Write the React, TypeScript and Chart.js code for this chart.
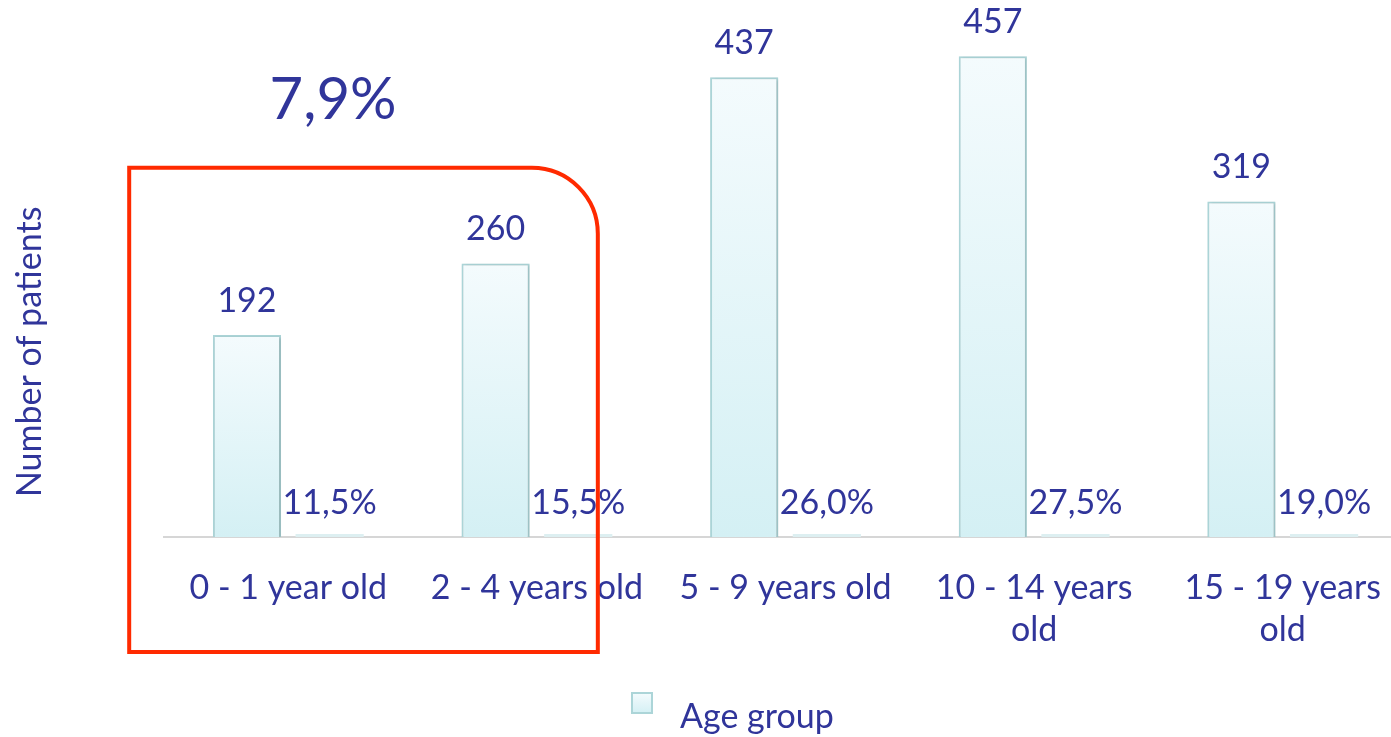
import React, { useEffect, useRef } from 'react';
import { Chart, registerables } from 'chart.js';

Chart.register(...registerables);

const categories: string[][] = [
  ['0 - 1 year old'],
  ['2 - 4 years old'],
  ['5 - 9 years old'],
  ['10 - 14 years', 'old'],
  ['15 - 19 years', 'old'],
];
const patientCounts = [192, 260, 437, 457, 319];
const percentShares = [11.5, 15.5, 26.0, 27.5, 19.0];
const highlightShare = '7,9%';
const seriesLabel = 'Age group';
const yAxisTitle = 'Number of patients';

const FONT = 'Lato, "Open Sans", sans-serif';
const TEXT = '#30359a';
const CANVAS_W = 1411;
const CANVAS_H = 737;
const FS = 34;

const fmtPct = (p: number) => p.toFixed(1).replace('.', ',') + '%';

const shadowPlugin = {
  id: 'shadowPlugin',
  beforeDatasetDraw(chart: any, args: any) {
    if (args.index !== 0) return;
    const ctx = chart.ctx as CanvasRenderingContext2D;
    ctx.save();
    ctx.shadowColor = 'rgba(0,0,0,0.18)';
    ctx.shadowBlur = 3;
    ctx.shadowOffsetX = 1.5;
    ctx.shadowOffsetY = 1;
  },
  afterDatasetDraw(chart: any, args: any) {
    if (args.index !== 0) return;
    chart.ctx.restore();
  },
};

const labelPlugin = {
  id: 'labelPlugin',
  afterDatasetsDraw(chart: any) {
    const ctx = chart.ctx as CanvasRenderingContext2D;
    const xs = chart.scales.x;
    const ys = chart.scales.y;
    ctx.save();
    ctx.fillStyle = TEXT;
    ctx.textAlign = 'center';
    ctx.textBaseline = 'middle';
    ctx.font = `${FS}px ${FONT}`;
    chart.getDatasetMeta(0).data.forEach((bar: any, i: number) => {
      ctx.fillText(String(patientCounts[i]), bar.x, bar.y - 34);
    });
    chart.getDatasetMeta(1).data.forEach((bar: any, i: number) => {
      ctx.fillText(fmtPct(percentShares[i]), bar.x, bar.y - 31);
    });

    // y axis title
    ctx.save();
    ctx.translate(30, ys.getPixelForValue(176));
    ctx.rotate(-Math.PI / 2);
    ctx.fillText(yAxisTitle, 0, 0);
    ctx.restore();

    // highlight box around the first two age groups
    const w = xs.getPixelForValue(1) - xs.getPixelForValue(0);
    const left = xs.getPixelForValue(0) - 0.64 * w;
    const right = xs.getPixelForValue(1) + 0.245 * w;
    const top = ys.getPixelForValue(351);
    const bottom = ys.getPixelForValue(0) + 115;
    const r = 66;
    ctx.beginPath();
    ctx.moveTo(left, bottom);
    ctx.lineTo(left, top);
    ctx.lineTo(right - r, top);
    ctx.arcTo(right, top, right, top + r, r);
    ctx.lineTo(right, bottom);
    ctx.closePath();
    ctx.strokeStyle = '#ff2a00';
    ctx.lineWidth = 4;
    ctx.stroke();

    ctx.font = `58px ${FONT}`;
    ctx.fillText(highlightShare, xs.getPixelForValue(0) + 0.18 * w, ys.getPixelForValue(415));

    // legend (single visible series)
    const bx = 632;
    const by = chart.height - 44;
    const g = ctx.createLinearGradient(0, by, 0, by + 20);
    g.addColorStop(0, '#f4fbfd');
    g.addColorStop(1, '#d4f0f4');
    ctx.fillStyle = g;
    ctx.fillRect(bx, by, 20, 20);
    ctx.strokeStyle = '#acd5d8';
    ctx.lineWidth = 2;
    ctx.strokeRect(bx, by, 20, 20);
    ctx.fillStyle = TEXT;
    ctx.textAlign = 'left';
    ctx.font = `${FS}px ${FONT}`;
    ctx.fillText(seriesLabel, bx + 48, by + 24);
    ctx.restore();
  },
};

function barGradient(context: any) {
  const chart = context.chart;
  const ys = chart.scales?.y;
  if (!chart.chartArea || !ys) return '#e6f6f9';
  const v = context.raw ?? 0;
  const topY = ys.getPixelForValue(v);
  const baseY = ys.getPixelForValue(0);
  if (!isFinite(topY) || !isFinite(baseY) || topY === baseY) return '#e6f6f9';
  const g = chart.ctx.createLinearGradient(0, topY, 0, baseY);
  g.addColorStop(0, '#f4fbfd');
  g.addColorStop(1, '#d4f0f4');
  return g;
}

export default function App() {
  const ref = useRef<HTMLCanvasElement | null>(null);
  useEffect(() => {
    if (!ref.current) return;
    const chart = new Chart(ref.current, {
      type: 'bar',
      data: {
        labels: categories,
        datasets: [
          {
            label: seriesLabel,
            data: patientCounts,
            backgroundColor: barGradient,
            borderColor: '#acd5d8',
            borderWidth: 2,
            categoryPercentage: 0.665,
            barPercentage: 0.825,
          },
          {
            label: 'Share',
            data: percentShares.map((p) => p / 100),
            backgroundColor: '#ddeff1',
            borderWidth: 0,
            minBarLength: 3,
            categoryPercentage: 0.665,
            barPercentage: 0.825,
          },
        ],
      },
      options: {
        responsive: false,
        animation: false,
        devicePixelRatio: 1,
        layout: { padding: { top: 11, left: 0, right: 0, bottom: 50 } },
        plugins: {
          tooltip: { enabled: false },
          legend: { display: false },
        },
        scales: {
          x: {
            grid: { display: false, drawTicks: false },
            border: { display: true, color: '#d6d6d6', width: 2 },
            ticks: {
              color: TEXT,
              font: { family: FONT, size: FS, lineHeight: 42 / FS },
              padding: 30,
              maxRotation: 0,
              autoSkip: false,
            },
            afterFit: (scale: any) => {
              scale.height = 150;
            },
          },
          y: {
            min: 0,
            max: 500,
            grid: { display: false, drawTicks: false },
            border: { display: false },
            ticks: { display: false },
            afterFit: (scale: any) => {
              scale.width = 164;
            },
          },
        },
      },
      plugins: [shadowPlugin, labelPlugin],
    } as any);
    return () => chart.destroy();
  }, []);

  return (
    <div style={{ position: 'fixed', left: 0, top: 0, width: 1391, height: 737, overflow: 'hidden', background: '#fff' }}>
      <canvas ref={ref} width={CANVAS_W} height={CANVAS_H} style={{ display: 'block' }} />
    </div>
  );
}
